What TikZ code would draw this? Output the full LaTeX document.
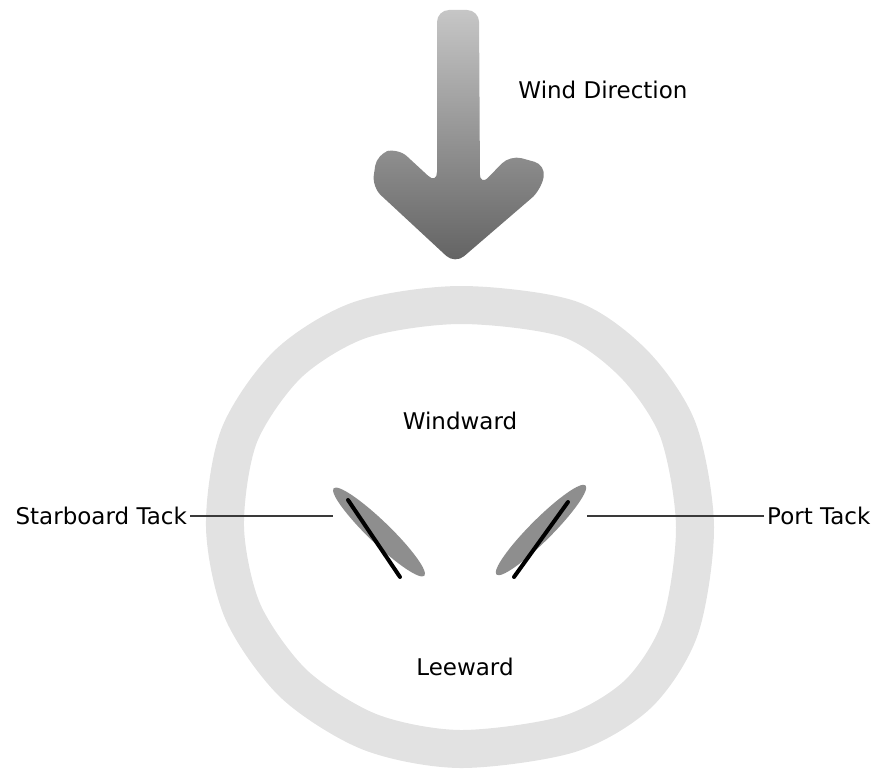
\documentclass[tikz,border=0pt]{standalone}
\usepackage{fontspec}
\setmainfont{DejaVu Sans}
\usetikzlibrary{positioning,shapes.geometric}
\definecolor{ringgray}{HTML}{E2E2E2}
\definecolor{arrtop}{HTML}{C6C6C6}
\definecolor{arrbot}{HTML}{626262}
\definecolor{hullgray}{HTML}{8E8E8E}
\definecolor{leadgray}{HTML}{3A3A3A}

\begin{document}
\begin{tikzpicture}[x=1pt,y=-1pt,
    t/.style={font=\fontsize{23}{27}\selectfont,inner sep=3pt},
    ring/.style={draw=ringgray,line width=38pt},
    hull/.style={ellipse,fill=hullgray,minimum width=126pt,minimum height=22pt,inner sep=0pt},
    sail/.style={line width=4pt,line cap=round,black},
    l/.style={line width=1.3pt,leadgray}]
    \useasboundingbox (0,0) rectangle (886,773);
    % wind arrow
    \shade[top color=arrtop,bottom color=arrbot,rounded corners=12pt]
      (437,10) -- (479,10) -- (480,186) -- (510,155) -- (546,165) -- (541,190)
      -- (455,264) -- (372,187) -- (377,154) -- (398,148) -- (437,184) -- cycle;
    \node[t] (wind) at (603,90) {Wind Direction};
    % the circle round the boats
    \draw[ring] plot[smooth cycle] coordinates {(695,527) (680,628) (638,694)
      (569,734) (460,749) (370,732) (294,684) (243,612) (225,527) (239,436)
      (288,364) (360,320) (460,305) (569,319) (634,364) (678,430)};
    \node[t] (windward) at (460,421) {Windward};
    \node[t] (leeward) at (465,667) {Leeward};
    % boats
    \node[hull,rotate=-44] (stbdhull) at (379,532) {};
    \node[hull,rotate=45] (porthull) at (541,530) {};
    \draw[sail] (348,500) -- (400,577);
    \draw[sail] (568,502) -- (514,577);
    \coordinate (stbdend) at (333,516);
    \coordinate (portend) at (587,516);
    \node[t,anchor=east] (stbd) at (190,516) {Starboard Tack};
    \node[t,anchor=west] (port) at (764,516) {Port Tack};
    \draw[l] (stbd.east) -- (stbdend);
    \draw[l] (port.west) -- (portend);
  \end{tikzpicture}
\end{document}
